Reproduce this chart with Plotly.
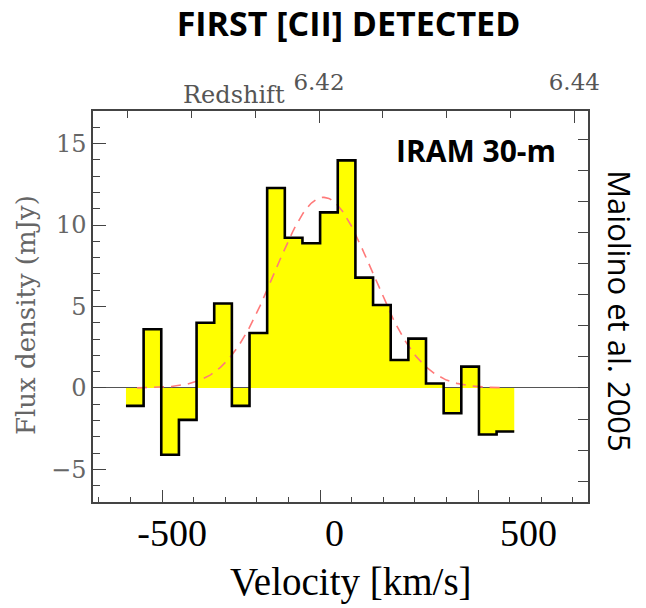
import numpy as np
import plotly.graph_objects as go

# ---------------- data ----------------
# velocity channel grid (km/s, original axis), 22 channels
chan_start = -614.0
chan_width = 55.85
flux_mjy = [-1.1, 3.6, -4.1, -1.96, 4.0, 5.18, -1.1, 3.37, 12.27, 9.22, 8.88,
            10.78, 13.97, 6.77, 5.09, 1.72, 3.03, 0.27, -1.55, 1.31, -2.86, -2.67]

# Gaussian fit parameters
fit_amp = 11.7          # mJy
fit_center = 11.0       # km/s
fit_fwhm = 364.0        # km/s
fit_span = (-579.0, 585.0)

# axis tick labels
vel_ticktext = ["-500", "0", "500"]
vel_tickpos = [-468, 46, 660]
z_ticks = [6.42, 6.44]
z_ticktext = ["6.42", "6.44"]
z_range = [6.402295, 6.441073]
vel_range = [-718.35, 848.1]
flux_range = [-7, 17]
right_scale = 0.524

# --------------------------------------
edges = chan_start + chan_width * np.arange(len(flux_mjy) + 1)
step_y = flux_mjy + [flux_mjy[-1]]

sig = fit_fwhm / 2.3548
gx = np.linspace(fit_span[0], fit_span[1], 300)
gy = fit_amp * np.exp(-0.5 * ((gx - fit_center) / sig) ** 2)

fig = go.Figure()
fig.add_trace(go.Scatter(x=edges, y=step_y, mode="lines", line=dict(shape="hv", width=0),
                         fill="tozeroy", fillcolor="#ffff00", hoverinfo="skip", showlegend=False))
fig.add_trace(go.Scatter(x=gx, y=gy, mode="lines",
                         line=dict(color="#ff7a7a", width=1.6, dash="10px,7px"), showlegend=False))
fig.add_trace(go.Scatter(x=edges, y=step_y, mode="lines",
                         line=dict(shape="hv", color="black", width=2.6), showlegend=False))
# invisible traces to activate overlay axes
fig.add_trace(go.Scatter(x=[z_range[0]], y=[0], xaxis="x2", yaxis="y", mode="markers",
                         marker=dict(opacity=0), showlegend=False, hoverinfo="skip"))
fig.add_trace(go.Scatter(x=[vel_range[0]], y=[0], xaxis="x3", yaxis="y2", mode="markers",
                         marker=dict(opacity=0), showlegend=False, hoverinfo="skip"))

axis_col = "#444444"
tick_font = dict(family="DejaVu Serif", size=24, color="#666666")

fig.update_layout(
    width=646, height=608,
    margin=dict(l=93, r=58, t=111, b=106),
    paper_bgcolor="white", plot_bgcolor="white",
    title=dict(text="<b>FIRST [CII] DETECTED</b>", x=0.5395, xanchor="center",
               y=1 - 24 / 608, yanchor="middle",
               font=dict(family="Open Sans", size=34, color="black")),
    xaxis=dict(range=vel_range, showgrid=False, zeroline=False,
               showline=True, linecolor=axis_col, linewidth=1.5, mirror=True,
               ticks="inside", tickmode="linear", tick0=0, dtick=500, ticklen=12,
               tickcolor=axis_col, tickwidth=1.3, showticklabels=False,
               minor=dict(ticks="inside", dtick=100, tick0=0, ticklen=5,
                          tickcolor=axis_col, tickwidth=1.3)),
    xaxis2=dict(range=z_range, overlaying="x", side="top", anchor="y",
                showgrid=False, zeroline=False, showline=False,
                ticks="inside", tickvals=z_ticks, ticktext=z_ticktext, ticklen=12,
                tickcolor=axis_col, tickwidth=1.3, ticklabelstandoff=15,
                tickfont=dict(family="DejaVu Serif", size=23, color="#555555"),
                minor=dict(ticks="inside", dtick=0.005, tick0=6.42, ticklen=7,
                           tickcolor=axis_col, tickwidth=1.3)),
    xaxis3=dict(range=vel_range, overlaying="x", side="bottom", anchor="y",
                showgrid=False, zeroline=False, showline=False,
                ticks="", tickvals=vel_tickpos, ticktext=vel_ticktext,
                ticklabelstandoff=5,
                tickfont=dict(family="Liberation Serif", size=38, color="black")),
    yaxis=dict(range=flux_range, showgrid=False,
               zeroline=True, zerolinecolor="#555555", zerolinewidth=1.2,
               showline=True, linecolor=axis_col, linewidth=1.5, mirror=True,
               ticks="inside", tickmode="linear", tick0=0, dtick=5, ticklen=13,
               tickcolor=axis_col, tickwidth=1.3, tickfont=tick_font, layer="above traces",
               minor=dict(ticks="inside", dtick=1, tick0=0, ticklen=7,
                          tickcolor=axis_col, tickwidth=1.3)),
    yaxis2=dict(range=[flux_range[0] * right_scale, flux_range[1] * right_scale],
                overlaying="y", side="right", anchor="x",
                showgrid=False, zeroline=False, showline=False,
                ticks="inside", tickmode="linear", tick0=0, dtick=1, ticklen=10,
                tickcolor=axis_col, tickwidth=1.3, showticklabels=False),
    annotations=[
        dict(text="Flux density (mJy)", xref="paper", yref="paper",
             x=(26 - 93) / 495, y=(502 - 315) / 391,
             xanchor="center", yanchor="middle", showarrow=False, textangle=-90,
             font=dict(family="DejaVu Serif", size=26, color="#666666")),
        dict(text="Velocity [km/s]", xref="paper", yref="paper",
             x=(351 - 93) / 495, y=(502 - 582) / 391,
             xanchor="center", yanchor="middle", showarrow=False,
             font=dict(family="Liberation Serif", size=39, color="black")),
        dict(text="Redshift", xref="paper", yref="paper", x=0.2848, y=1.041,
             xanchor="center", yanchor="middle", showarrow=False,
             font=dict(family="DejaVu Serif", size=24, color="#555555")),
        dict(text="<b>IRAM 30-m</b>", xref="paper", yref="paper", x=0.774, y=0.8977,
             xanchor="center", yanchor="middle", showarrow=False,
             font=dict(family="Open Sans", size=30, color="black")),
        dict(text="Maiolino et al. 2005", xref="paper", yref="paper", x=1.0646, y=0.488,
             xanchor="center", yanchor="middle", showarrow=False, textangle=90,
             font=dict(family="Open Sans", size=31, color="black")),
    ],
)

fig.write_html("out.html")
